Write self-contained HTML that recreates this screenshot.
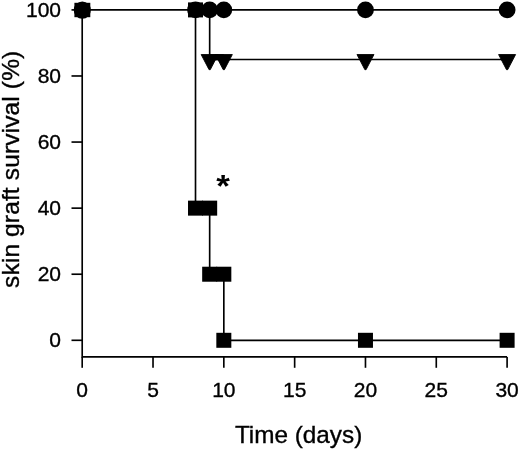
<!DOCTYPE html><html><head><meta charset="utf-8"><style>html,body{margin:0;padding:0;background:#fff}svg{display:block}text{font-family:"Liberation Sans",Arial,sans-serif;fill:#000;stroke:#000;stroke-width:0.35px}</style></head><body>
<svg width="520" height="449" viewBox="0 0 520 449">
<rect width="520" height="449" fill="#fff"/>
<g>
<g stroke="#000" stroke-width="1.65" fill="none">
<path d="M82.2 9.9 V357.7"/>
<path d="M82.2 356.9 H507.1"/>
<path d="M71.5 340.3 H82.2"/>
<path d="M71.5 274.22 H82.2"/>
<path d="M71.5 208.14 H82.2"/>
<path d="M71.5 142.06 H82.2"/>
<path d="M71.5 75.98 H82.2"/>
<path d="M71.5 9.9 H82.2"/>
<path d="M82.2 356.9 V367.8"/>
<path d="M153.02 356.9 V367.8"/>
<path d="M223.83 356.9 V367.8"/>
<path d="M294.65 356.9 V367.8"/>
<path d="M365.47 356.9 V367.8"/>
<path d="M436.28 356.9 V367.8"/>
<path d="M507.1 356.9 V367.8"/>
<path d="M82.2 9.9 H507.1"/>
<path d="M209.67 9.9 V59.46 H507.1"/>
<path d="M195.51 9.9 V208.14 H209.67 V274.22 H223.83 V340.3 H507.1"/>
</g>
<circle cx="195.51" cy="9.9" r="8.4"/>
<circle cx="209.67" cy="9.9" r="8.4"/>
<circle cx="223.83" cy="9.9" r="8.4"/>
<circle cx="365.47" cy="9.9" r="8.4"/>
<circle cx="507.1" cy="9.9" r="8.4"/>
<path d="M201.17 54.56 H218.17 L210.27 69.66 H209.07 Z" stroke="#000" stroke-width="0.9" stroke-linejoin="round"/>
<path d="M215.33 54.56 H232.33 L224.43 69.66 H223.23 Z" stroke="#000" stroke-width="0.9" stroke-linejoin="round"/>
<path d="M356.97 54.56 H373.97 L366.07 69.66 H364.87 Z" stroke="#000" stroke-width="0.9" stroke-linejoin="round"/>
<path d="M498.60 54.56 H515.60 L507.70 69.66 H506.50 Z" stroke="#000" stroke-width="0.9" stroke-linejoin="round"/>
<rect x="188.01" y="2.40" width="15" height="15"/>
<rect x="188.01" y="200.64" width="15" height="15"/>
<rect x="202.17" y="200.64" width="15" height="15"/>
<rect x="202.17" y="266.72" width="15" height="15"/>
<rect x="216.33" y="266.72" width="15" height="15"/>
<rect x="216.33" y="332.80" width="15" height="15"/>
<rect x="357.97" y="332.80" width="15" height="15"/>
<rect x="499.60" y="332.80" width="15" height="15"/>
<rect x="209.67" y="54.26" width="14.16" height="6"/>
<text x="61" y="347.40" font-size="21" text-anchor="end">0</text>
<text x="61" y="281.32" font-size="21" text-anchor="end">20</text>
<text x="61" y="215.24" font-size="21" text-anchor="end">40</text>
<text x="61" y="149.16" font-size="21" text-anchor="end">60</text>
<text x="61" y="83.08" font-size="21" text-anchor="end">80</text>
<text x="61" y="17.00" font-size="21" text-anchor="end">100</text>
<text x="82.2" y="397.3" font-size="21" text-anchor="middle">0</text>
<text x="153.02" y="397.3" font-size="21" text-anchor="middle">5</text>
<text x="223.83" y="397.3" font-size="21" text-anchor="middle">10</text>
<text x="294.65" y="397.3" font-size="21" text-anchor="middle">15</text>
<text x="365.47" y="397.3" font-size="21" text-anchor="middle">20</text>
<text x="436.28" y="397.3" font-size="21" text-anchor="middle">25</text>
<text x="507.1" y="397.3" font-size="21" text-anchor="middle">30</text>
<text x="298.6" y="442.5" font-size="24.3" text-anchor="middle">Time (days)</text>
<text transform="translate(18.8 169.3) rotate(-90)" font-size="24.5" letter-spacing="0.14" text-anchor="middle">skin graft survival (%)</text>
<text transform="translate(223 180.4) scale(1 0.92)" y="17.9" font-size="35" font-weight="bold" stroke="none" style="stroke:none" text-anchor="middle">*</text>
<circle cx="82.3" cy="10.1" r="8.6"/><rect x="74.4" y="2.8" width="15.9" height="14.4"/>
</g></svg></body></html>
